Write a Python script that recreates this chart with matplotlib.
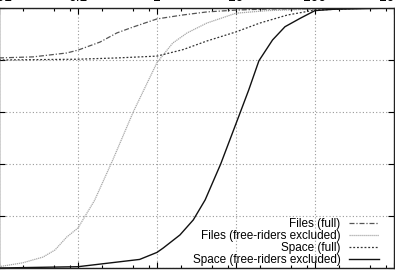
"""CDF of files and space per peer, with and without free-riders."""

import matplotlib

matplotlib.use("Agg")
import matplotlib.pyplot as plt
from matplotlib.ticker import FixedLocator, NullFormatter

plt.rcParams["font.family"] = ["Liberation Sans", "DejaVu Sans"]

TICK_VALUES = [0.01, 0.1, 1, 10, 100, 1000]
TICK_LABELS = ["0.01", "0.1", "1", "10", "100", "1000"]
Y_TICKS = [0.0, 0.2, 0.4, 0.6, 0.8, 1.0]

files_full_x = [0.01, 0.027, 0.072, 0.1, 0.19, 0.31, 0.5, 1.0, 2.1, 4.3, 10, 25, 100, 1000]
files_full_y = [0.808, 0.812, 0.827, 0.838, 0.869, 0.904, 0.927, 0.958, 0.973, 0.985, 0.992,
                0.996, 0.997, 1.0]

files_excl_x = [0.01, 0.02, 0.036, 0.051, 0.072, 0.1, 0.129, 0.162, 0.275, 0.5, 1.0, 1.58,
                2.4, 4.27, 10, 25, 100, 1000]
files_excl_y = [0.005, 0.02, 0.042, 0.069, 0.119, 0.154, 0.21, 0.26, 0.415, 0.6, 0.79, 0.865,
                0.904, 0.942, 0.98, 0.99, 0.996, 1.0]

space_full_x = [0.01, 0.1, 0.316, 1, 2.14, 4.27, 10, 20, 44.7, 100, 316, 1000]
space_full_y = [0.800, 0.803, 0.808, 0.815, 0.84, 0.873, 0.908, 0.942, 0.973, 0.992, 0.998, 1.0]

space_excl_x = [0.01, 0.1, 0.603, 1.0, 1.2, 1.95, 2.88, 4.07, 6.4, 10.8, 14.5, 19.5, 29.0, 41.7,
                64.6, 100, 170, 1000]
space_excl_y = [0.0, 0.005, 0.033, 0.06, 0.077, 0.127, 0.185, 0.262, 0.4, 0.582, 0.685, 0.797,
                0.877, 0.928, 0.96, 0.99, 0.995, 1.0]


def main() -> None:
    fig = plt.figure(figsize=(3.95, 2.77), dpi=100)
    W, H = 395, 277
    ax = fig.add_axes([-1 / W, 9 / H, 395 / W, 260 / H])

    ax.plot(files_full_x, files_full_y, color="#555555", lw=0.9, ls=(0, (4, 1.5, 1, 1.5)),
            label="Files (full)")
    ax.plot(files_excl_x, files_excl_y, color="#a8a8a8", lw=0.9, ls=(0, (1, 0.6)),
            label="Files (free-riders excluded)")
    ax.plot(space_full_x, space_full_y, color="#333333", lw=0.9, ls=(0, (1.5, 1.5)),
            label="Space (full)")
    ax.plot(space_excl_x, space_excl_y, color="#111111", lw=1.0,
            label="Space (free-riders excluded)")

    ax.set_xscale("log")
    ax.set_xlim(0.01, 1000)
    ax.set_ylim(0, 1)
    ax.xaxis.set_major_locator(FixedLocator(TICK_VALUES))
    ax.set_xticks(TICK_VALUES, TICK_LABELS)
    minor = [m * d for d in TICK_VALUES[:-1] for m in (2, 5, 8)]
    ax.xaxis.set_minor_locator(FixedLocator(minor))
    ax.xaxis.set_minor_formatter(NullFormatter())
    ax.set_yticks(Y_TICKS)
    ax.set_yticklabels([])

    ax.grid(True, which="major", color="#999999", ls=(0, (1, 2)), lw=0.8)
    ax.tick_params(which="both", direction="in", top=True, right=True,
                   labelbottom=False, labeltop=True, labelsize=10, pad=3.2)
    ax.tick_params(which="major", length=4, width=0.8)
    ax.tick_params(which="minor", length=2.5, width=0.8)
    for spine in ax.spines.values():
        spine.set_linewidth(1.0)
        spine.set_color("#222222")

    leg = ax.legend(loc="lower right", frameon=False, markerfirst=False, fontsize=8.5,
                    handlelength=2.6, handletextpad=0.7, labelspacing=0.0,
                    borderaxespad=0.0, bbox_to_anchor=(0.975, -0.01))
    for text in leg.get_texts():
        text.set_ha("right")

    fig.savefig("out.png", dpi=100)
    plt.close(fig)


if __name__ == "__main__":
    main()
